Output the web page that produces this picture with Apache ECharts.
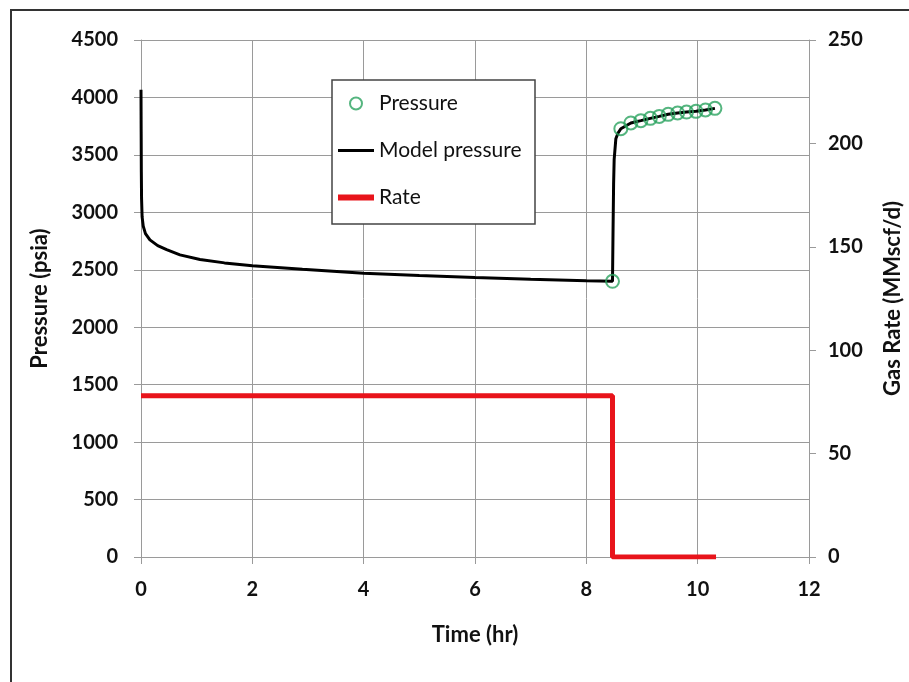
<!DOCTYPE html>
<html>
<head>
<meta charset="utf-8">
<script src="https://cdn.jsdelivr.net/npm/echarts@6/dist/echarts.min.js"></script>
<style>
  html, body { margin: 0; padding: 0; background: #fff; }
  #chart { width: 909px; height: 682px; }
</style>
</head>
<body>
<div id="chart"></div>
<script>
// time in hours
const modelTime = [0, 0.003, 0.006, 0.01, 0.02, 0.04, 0.08, 0.16, 0.3, 0.46, 0.7, 1.06, 1.5, 2, 2.9, 4, 5, 6, 7, 8, 8.47,
  8.48, 8.49, 8.5, 8.53, 8.57, 8.62, 8.8, 8.98, 9.15, 9.31, 9.47, 9.64, 9.8, 9.97, 10.14, 10.31];
const modelPressure = [4068, 3700, 3350, 3120, 2960, 2880, 2815, 2760, 2710, 2675, 2630, 2590, 2560, 2535, 2505, 2470, 2450, 2432, 2418, 2405, 2400,
  2850, 3250, 3460, 3640, 3690, 3728, 3778, 3798, 3818, 3835, 3853, 3865, 3873, 3879, 3891, 3905];

const obsTime = [8.47, 8.62, 8.8, 8.98, 9.15, 9.31, 9.47, 9.64, 9.8, 9.97, 10.14, 10.31];
const obsPressure = [2400, 3728, 3778, 3798, 3818, 3835, 3853, 3865, 3873, 3879, 3891, 3905];

const rateTime = [0, 8.47, 8.47, 10.33];
const rateValue = [78, 78, 0, 0];

const zip = (xs, ys) => xs.map((x, i) => [x, ys[i]]);

const chart = echarts.init(document.getElementById('chart'));
const font = 'Lato, "Open Sans", sans-serif';
const grayLine = { color: '#9a9a9a', width: 1 };
const tickLabel = { fontFamily: font, fontSize: 20, fontWeight: 'bold', color: '#111', formatter: v => String(v) };
const axisName = { fontFamily: font, fontSize: 22, fontWeight: 'bold', color: '#111' };

const option = {
  backgroundColor: '#fff',
  textStyle: { fontFamily: font },
  animation: false,
  grid: { left: 141, right: 100, top: 40, bottom: 125, outerBoundsMode: 'none' },
  graphic: [
    {
      type: 'rect', z: 0, silent: true,
      shape: { x: 11, y: 10, width: 1000, height: 800 },
      style: { fill: 'none', stroke: '#333', lineWidth: 2 }
    },
    {
      type: 'rect', z: 5, silent: true,
      shape: { x: 332, y: 80, width: 203, height: 144 },
      style: { fill: '#fff', stroke: '#444', lineWidth: 1.5 }
    }
  ],
  legend: {
    z: 10,
    orient: 'vertical',
    left: 330,
    top: 88,
    itemWidth: 36,
    itemHeight: 12,
    itemGap: 26,
    textStyle: { fontFamily: font, fontSize: 21, color: '#111' },
    data: [
      { name: 'Pressure', icon: 'circle', itemStyle: { color: 'transparent', borderColor: '#2ba35f', borderWidth: 2 } },
      { name: 'Model pressure', itemStyle: { opacity: 0 }, lineStyle: { color: '#000', width: 3 } },
      { name: 'Rate', itemStyle: { opacity: 0 }, lineStyle: { color: '#e8141b', width: 6 } }
    ]
  },
  xAxis: {
    type: 'value',
    min: 0, max: 12, interval: 2,
    name: 'Time (hr)',
    nameLocation: 'middle',
    nameGap: 67,
    nameTextStyle: axisName,
    axisLine: { show: true, onZero: false, lineStyle: grayLine },
    axisTick: { show: true, length: 7, lineStyle: grayLine },
    axisLabel: Object.assign({}, tickLabel, { margin: 23 }),
    splitLine: { show: true, lineStyle: grayLine }
  },
  yAxis: [
    {
      type: 'value',
      min: 0, max: 4500, interval: 500,
      name: 'Pressure (psia)',
      nameLocation: 'middle',
      nameRotate: 90,
      nameGap: 90,
      nameTextStyle: axisName,
      axisLine: { show: true, onZero: false, lineStyle: grayLine },
      axisTick: { show: true, length: 7, lineStyle: grayLine },
      axisLabel: Object.assign({}, tickLabel, { margin: 23 }),
      splitLine: { show: true, lineStyle: grayLine }
    },
    {
      type: 'value',
      position: 'right',
      min: 0, max: 250, interval: 50,
      name: 'Gas Rate (MMscf/d)',
      nameLocation: 'middle',
      nameRotate: 90,
      nameGap: 73,
      nameTextStyle: axisName,
      axisLine: { show: true, onZero: false, lineStyle: grayLine },
      axisTick: { show: true, length: 7, lineStyle: grayLine },
      axisLabel: Object.assign({}, tickLabel, { margin: 19 }),
      splitLine: { show: false }
    }
  ],
  series: [
    {
      name: 'Rate',
      type: 'line',
      yAxisIndex: 1,
      data: zip(rateTime, rateValue),
      symbol: 'none',
      color: '#e8141b',
      lineStyle: { color: '#e8141b', width: 5 },
      z: 2
    },
    {
      name: 'Model pressure',
      type: 'line',
      yAxisIndex: 0,
      data: zip(modelTime, modelPressure),
      symbol: 'none',
      color: '#000',
      lineStyle: { color: '#000', width: 3 },
      z: 3
    },
    {
      name: 'Pressure',
      type: 'scatter',
      yAxisIndex: 0,
      data: zip(obsTime, obsPressure),
      symbol: 'circle',
      symbolSize: 13,
      itemStyle: { color: 'transparent', borderColor: '#2ba35f', borderWidth: 2 },
      z: 4
    }
  ]
};

chart.setOption(option);
</script>
</body>
</html>
